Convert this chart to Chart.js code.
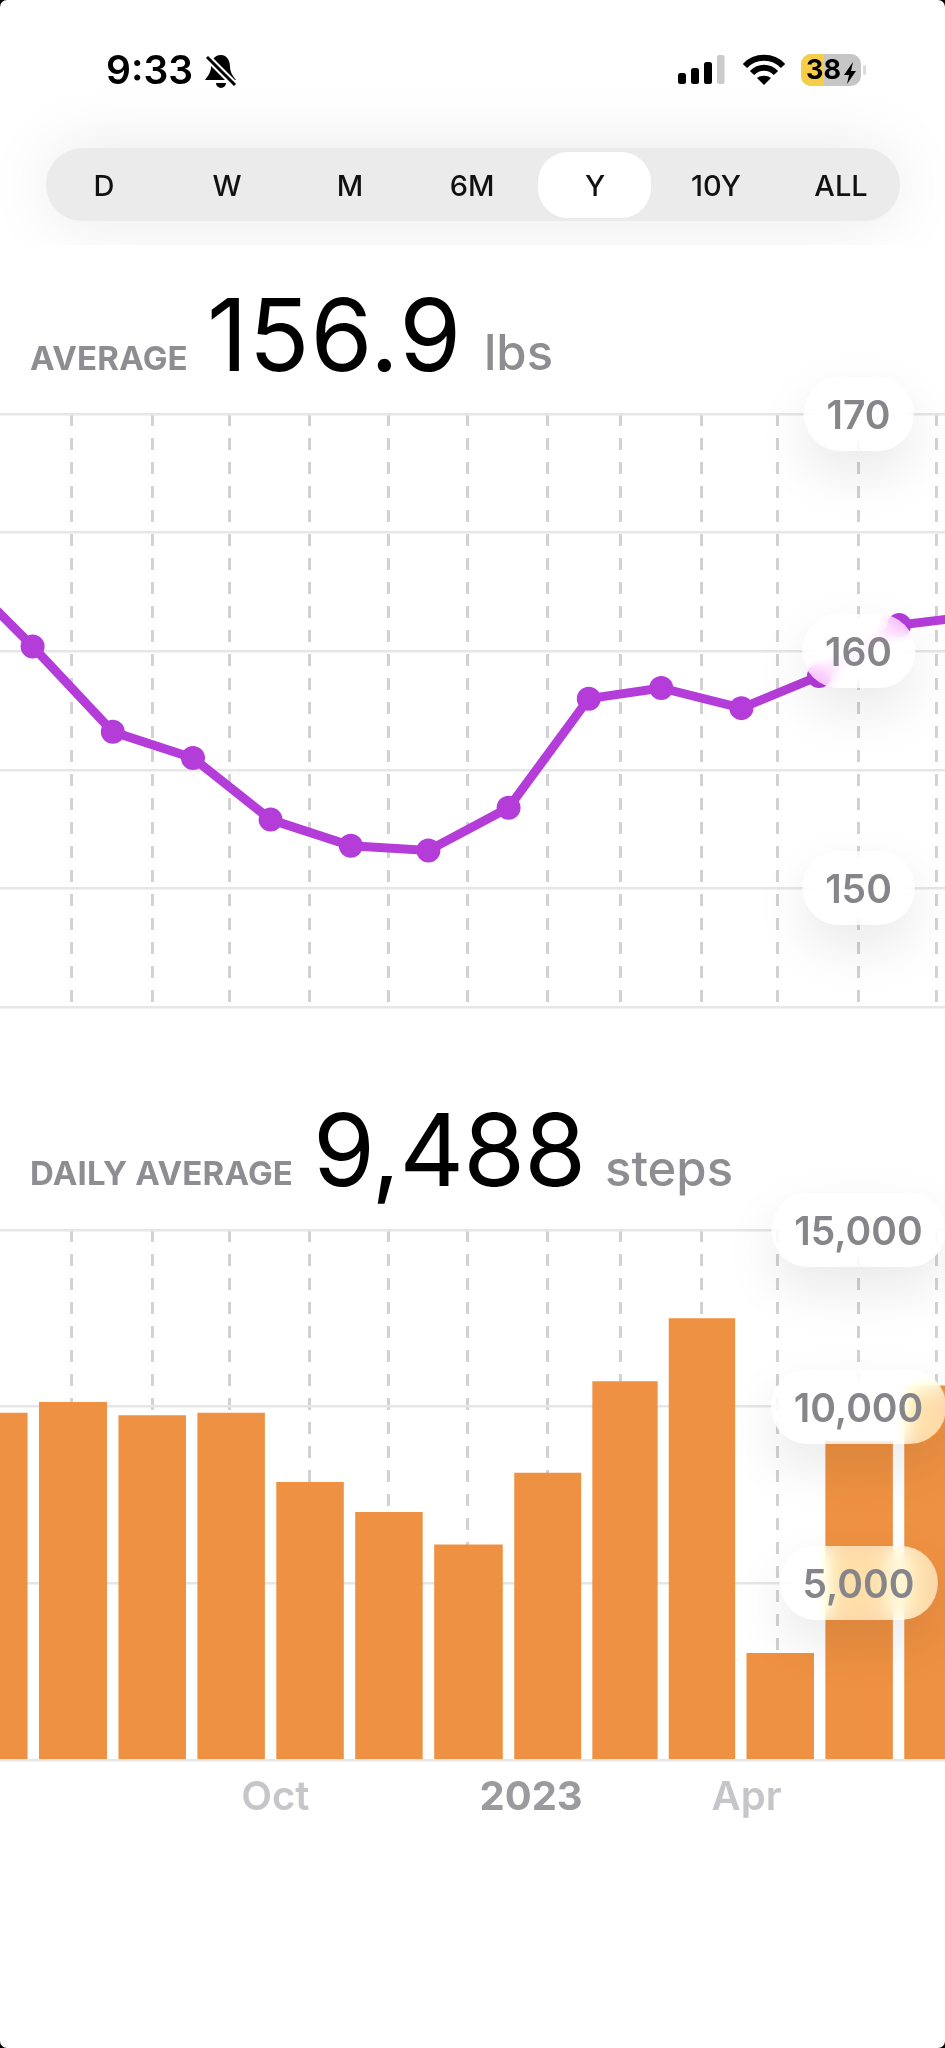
<!DOCTYPE html>
<html><head><meta charset="utf-8">
<script src="https://cdn.jsdelivr.net/npm/chart.js@4"></script>
<style>
html,body{margin:0;padding:0;background:#000;}
#screen{position:relative;width:945px;height:2048px;background:#fff;overflow:hidden;border-radius:7px;font-family:Inter,"Noto Sans",sans-serif;}
.abs{position:absolute;white-space:nowrap;}
canvas{position:absolute;left:0;display:block;}
#haze{position:absolute;left:0;top:0;width:945px;height:245px;overflow:hidden;}
#seg{position:absolute;left:46px;top:148px;width:854px;height:73px;border-radius:37px;background:#ebebeb;box-shadow:0 2px 0 #f6f6f6,0 0 70px rgba(0,0,0,.09);}
#sel{position:absolute;left:538px;top:152px;width:113px;height:66px;border-radius:30px;background:#fff;}
.seglab{position:absolute;top:185px;transform:translate(-50%,-50%);font-size:29px;font-weight:500;color:#111;}
.pill{position:absolute;transform:translate(-50%,-50%);height:74px;line-height:75px;border-radius:37px;text-align:center;font-size:39px;font-weight:600;color:#86868a;background:rgba(255,255,255,.58);-webkit-backdrop-filter:blur(11px) brightness(1.25) saturate(1.3);backdrop-filter:blur(11px) brightness(1.25) saturate(1.3);box-shadow:0 22px 55px rgba(0,0,0,.09);}
.lab{font-weight:700;color:#8e8e92;font-size:33px;letter-spacing:.2px;}
.big{font-weight:400;color:#000;font-size:100px;}
.unit{font-weight:500;color:#8e8e92;font-size:49px;}
</style></head>
<body>
<div id="screen">
  <div id="haze"><div id="seg"></div></div>
  <div id="sel"></div>
  <div class="abs" style="left:106px;top:46px;font-size:39px;font-weight:600;color:#000;line-height:48px;">9:33</div>
  <svg class="abs" style="left:203px;top:53px" width="35" height="36" viewBox="0 0 35 36"><path d="M18 2c-7 0-10 6-10 12 0 5-3 9-6 13h31c-3-4-6-8-6-13 0-6-3-12-9-12zM13 30a5 5 0 0 0 10 0z" fill="#000"/><path d="M4 4l28 28" stroke="#fff" stroke-width="7"/><path d="M4 4l28 28" stroke="#000" stroke-width="3"/></svg>
  <svg class="abs" style="left:677px;top:54px" width="48" height="32" viewBox="0 0 48 32"><rect x="1" y="19" width="8" height="11" rx="2.5" fill="#000"/><rect x="14" y="14" width="8" height="16" rx="2.5" fill="#000"/><rect x="27" y="8" width="8" height="22" rx="2.5" fill="#000"/><rect x="40" y="1" width="7.5" height="29" rx="2" fill="#cbcbcb"/></svg>
  <svg class="abs" style="left:743px;top:54px" width="42" height="32" viewBox="0 0 42 32"><path d="M2 12C12 1 30 1 40 12M9 19c7-7 17-7 24 0" fill="none" stroke="#000" stroke-width="6"/><path d="M14 24c4-3 10-3 14 0l-7 7z" fill="#000"/></svg>
  <svg class="abs" style="left:801px;top:54px" width="66" height="32" viewBox="0 0 66 32"><rect x="0" y="0" width="60" height="32" rx="10" fill="#c6c6c6"/><path d="M10 0h13v32H10a10 10 0 0 1-10-10V10a10 10 0 0 1 10-10z" fill="#f6cd47"/><rect x="62" y="11" width="3" height="10" rx="1.5" fill="#dcdcdc"/><path d="M52 8l-9 13h5l-2 9 9-13h-5z" fill="#000"/></svg>
  <div class="abs" style="left:806px;top:54px;font-size:27px;font-weight:700;line-height:32px;color:#000;">38</div>

  <div class="abs lab" style="left:30px;top:338px;">AVERAGE</div>
  <div class="abs big" style="left:207px;top:274px;line-height:121px;letter-spacing:1px;">156.9</div>
  <div class="abs unit" style="left:484px;top:325px;line-height:56px;">lbs</div>
  <canvas id="weight" width="945" height="620" style="top:400px"></canvas>

  <div class="abs lab" style="left:30px;top:1153px;">DAILY AVERAGE</div>
  <div class="abs big" style="left:313px;top:1089px;line-height:121px;letter-spacing:-.9px;">9,488</div>
  <div class="abs unit" style="left:605px;top:1141px;line-height:56px;">steps</div>
  <canvas id="steps" width="945" height="620" style="top:1210px"></canvas>
</div>
<script>
const segLabels = ["D","W","M","6M","Y","10Y","ALL"];
const segCentres = [104,227,350,472,595,716,841];

// days counted from 1 Jul 2022
const weightDays = [-30,0,31,62,92,123,153,184,215,243,274,304,335,365];
const weightLbs = [163.5,160.2,156.6,155.5,152.9,151.8,151.6,153.4,158.0,158.45,157.6,158.95,161.1,161.5];
const weightTicks = [145,150,155,160,165,170];
const weightLabels = [150,160,170];

const stepDays = [-15,15.5,46.5,76.5,107.5,137.5,168.5,199.5,229,258.5,289,319.5,350];
const stepValues = [9820,10120,9750,9820,7860,7010,6090,8120,10710,12490,3020,9020,10590];
const stepTicks = [0,5000,10000,15000];
const stepLabels = [5000,10000,15000];

const gridDays = [15.2,46.2,76.3,107.2,137.4,168.3,199.2,227.4,258.4,288.1,319.4,349.6];
const monthTickDays = [93.8,192.7,276];
const monthTickLabels = ["Oct","2023","Apr"];
const dayMin = -12.6, dayMax = 352.7;

const screen_ = document.getElementById('screen');
segLabels.forEach((t,i)=>{const d=document.createElement('div');d.className='seglab';d.textContent=t;d.style.left=segCentres[i]+'px';screen_.appendChild(d);});

const gridLine = '#e6e6e8', dash = '#d2d2d5';
function xAxis(withLabels){
  return {
    type:'linear', min:dayMin, max:dayMax, offset:false,
    border:{display:false, dash:[12,12]},
    grid:{drawTicks:false, lineWidth:3, offset:false,
      color:c=>monthTickDays.includes(c.tick&&c.tick.value)?'rgba(0,0,0,0)':dash},
    afterBuildTicks:s=>{s.ticks=gridDays.concat(withLabels?monthTickDays:[]).map(v=>({value:v}));},
    afterFit:s=>{s.height=withLabels?70:0;},
    ticks:{display:withLabels,autoSkip:false,maxRotation:0,minRotation:0,padding:14,
      callback:v=>{const i=monthTickDays.indexOf(v);return i<0?'':monthTickLabels[i];},
      color:c=>c.tick&&c.tick.label==='2023'?'#9b9b9f':'#c6c6ca',
      font:c=>({family:'Inter',size:40,weight:c.tick&&c.tick.label==='2023'?'700':'600'})}
  };
}
function yAxis(min,max,ticks){
  return {type:'linear',min,max,position:'right',border:{display:false},
    grid:{drawTicks:false,lineWidth:2.5,color:gridLine},
    afterBuildTicks:s=>{s.ticks=ticks.map(v=>({value:v}));},
    afterFit:s=>{s.width=0;},
    ticks:{display:false}};
}
const base = {responsive:false,animation:false,plugins:{legend:{display:false},tooltip:{enabled:false}}};

const c1 = new Chart(document.getElementById('weight'),{type:'line',
  data:{datasets:[{data:weightDays.map((x,i)=>({x,y:weightLbs[i]})),borderColor:'#b43cd8',backgroundColor:'#b43cd8',borderWidth:9,pointRadius:12,pointBackgroundColor:'#b43cd8',pointBorderWidth:0,tension:0,clip:false}]},
  options:{...base,layout:{autoPadding:false,padding:{top:14,bottom:13,left:0,right:0}},scales:{x:xAxis(false),y:yAxis(145,170,weightTicks)}}});

const c2 = new Chart(document.getElementById('steps'),{type:'bar',
  data:{datasets:[{data:stepDays.map((x,i)=>({x,y:stepValues[i]})),backgroundColor:'#ee9142',barThickness:'flex',barPercentage:.847,categoryPercentage:1}]},
  options:{...base,layout:{autoPadding:false,padding:{top:20,bottom:0,left:0,right:0}},scales:{x:xAxis(true),y:yAxis(0,15000,stepTicks)}}});

function pills(chart,labels,canvasTop,fmt,padX){
  labels.forEach(v=>{
    const d=document.createElement('div');d.className='pill';d.textContent=fmt(v);
    d.style.left='858.5px';d.style.top=(canvasTop+chart.scales.y.getPixelForValue(v))+'px';
    d.style.padding='0 '+padX+'px';
    screen_.appendChild(d);
  });
}
pills(c1,weightLabels,400,v=>String(v),23);
pills(c2,stepLabels,1210,v=>v.toLocaleString('en-US'),23);
</script>
</body></html>
